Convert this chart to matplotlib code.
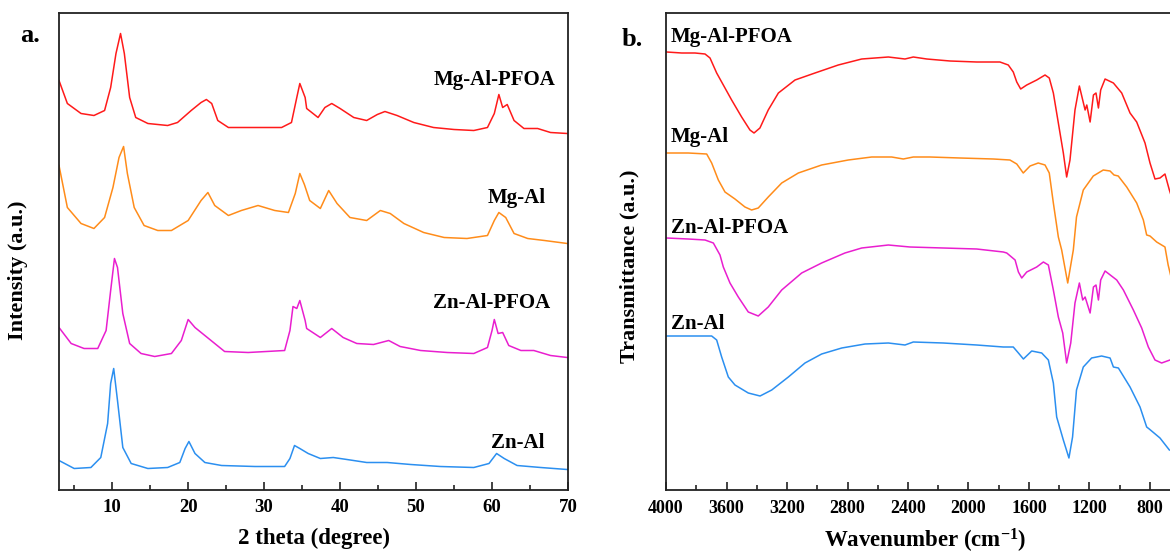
import matplotlib
matplotlib.use("Agg")
import matplotlib.pyplot as plt
from matplotlib.ticker import MultipleLocator, FixedLocator

plt.rcParams['font.family'] = ['Liberation Serif', 'DejaVu Serif']
plt.rcParams['font.weight'] = 'bold'
plt.rcParams['mathtext.fontset'] = 'custom'
plt.rcParams['mathtext.rm'] = 'Liberation Serif:bold'
plt.rcParams['mathtext.default'] = 'rm'

# ---- panel a: XRD, 2 theta (degree) vs stacked intensity (a.u.) ----
xrd_names = ["Mg-Al-PFOA", "Mg-Al", "Zn-Al-PFOA", "Zn-Al"]
xrd_colors = ["#FF1A1A", "#FF8C1A", "#E91ECF", "#2B8FF0"]

mgal_pfoa_x = [3.0, 4.1, 5.9, 7.6, 9.0, 9.8, 10.5, 11.1, 11.6, 12.3, 13.1, 14.7, 17.3, 18.6,
               20.4, 21.7, 22.4, 23.1, 23.9, 25.3, 28.8, 32.3, 33.6, 34.3, 34.7, 35.4, 35.6,
               37.1, 38.0, 38.9, 40.0, 41.8, 43.5, 44.9, 45.9, 47.5, 49.7, 52.3, 55.0, 57.6,
               59.4, 60.3, 60.9, 61.4, 62.0, 62.9, 64.2, 66.0, 67.7, 69.9]
mgal_pfoa_y = [409, 386, 376, 374, 379, 402, 436, 456, 436, 392, 372, 366, 364, 367,
               379, 387, 390, 386, 369, 362, 362, 362, 367, 392, 406, 392, 381,
               372, 382, 386, 381, 372, 369, 375, 378, 374, 367, 362, 360, 359,
               362, 376, 395, 382, 385, 369, 361, 361, 357, 356]

mgal_x = [3.0, 4.1, 5.9, 7.6, 9.0, 10.1, 10.9, 11.5, 12.0, 12.9, 14.2, 16.0, 17.8, 20.0,
          21.7, 22.6, 23.5, 25.3, 27.0, 29.2, 31.4, 33.2, 34.1, 34.7, 35.3, 36.0, 37.4,
          38.5, 39.6, 41.3, 43.5, 45.3, 46.6, 48.4, 51.0, 53.7, 56.7, 59.4, 60.3, 60.9,
          61.8, 62.9, 64.7, 66.9, 69.9]
mgal_y = [324, 282, 266, 261, 272, 302, 332, 343, 316, 282, 264, 259, 259, 269,
          289, 297, 284, 274, 279, 284, 279, 277, 296, 316, 305, 289, 281,
          299, 286, 272, 269, 279, 276, 266, 257, 252, 251, 254, 269, 277,
          272, 256, 251, 249, 246]

znal_pfoa_x = [3.0, 4.6, 6.3, 8.1, 9.2, 9.8, 10.3, 10.7, 11.4, 12.3, 13.8, 15.6, 17.8, 19.1,
               20.0, 20.9, 22.2, 23.5, 24.8, 27.9, 32.7, 33.4, 33.8, 34.3, 34.7, 35.4, 35.6,
               37.4, 38.9, 40.4, 42.2, 44.4, 46.4, 47.9, 50.6, 54.1, 57.6, 59.4, 60.0, 60.3,
               60.8, 61.4, 62.2, 63.8, 65.5, 67.7, 69.9]
znal_pfoa_y = [162, 146, 141, 141, 159, 199, 231, 222, 176, 146, 136, 133, 136, 149,
               170, 162, 154, 146, 138, 137, 139, 159, 183, 181, 189, 169, 161,
               152, 161, 152, 146, 145, 149, 143, 139, 137, 136, 142, 159, 170,
               156, 157, 144, 139, 139, 134, 132]

znal_x = [3.0, 5.0, 7.2, 8.5, 9.4, 9.8, 10.2, 10.7, 11.4, 12.5, 14.7, 17.3, 18.9, 19.6,
          20.1, 20.9, 22.2, 24.4, 28.8, 32.7, 33.4, 34.0, 34.7, 35.8, 37.4, 39.1, 40.9,
          43.5, 46.2, 49.3, 53.2, 57.6, 59.6, 60.6, 61.6, 63.3, 66.4, 69.9]
znal_y = [29, 21, 22, 32, 66, 106, 121, 89, 42, 26, 21, 22, 27, 41,
          48, 36, 27, 24, 23, 23, 31, 44, 41, 36, 31, 32, 30,
          27, 27, 25, 23, 22, 26, 36, 31, 24, 22, 20]

xrd_label_pos = [(68.3, 409), (67.1, 291), (67.7, 186), (66.9, 47)]

# ---- panel b: FTIR, wavenumber (cm-1) vs stacked transmittance (a.u.) ----
ftir_names = ["Mg-Al-PFOA", "Mg-Al", "Zn-Al-PFOA", "Zn-Al"]
ftir_major_ticks = [4000, 3600, 3200, 2800, 2400, 2000, 1600, 1200, 800]

mgal_pfoa_wn = [3996, 3896, 3808, 3742, 3709, 3665, 3632, 3566, 3500, 3445, 3418, 3379, 3324,
                3257, 3147, 3015, 2861, 2706, 2530, 2420, 2365, 2276, 2122, 1946, 1792, 1737,
                1704, 1681, 1655, 1615, 1549, 1494, 1466, 1439, 1406, 1373, 1351, 1329, 1296,
                1267, 1245, 1229, 1218, 1196, 1174, 1157, 1141, 1126, 1097, 1042, 987, 932,
                888, 833, 800, 767, 734, 701, 672, 640]
mgal_pfoa_t = [438, 437, 437, 436, 432, 417, 408, 390, 373, 360, 357, 362, 380,
               397, 410, 417, 425, 431, 433, 431, 433, 431, 429, 428, 428, 425,
               418, 408, 401, 405, 410, 415, 412, 397, 367, 337, 313, 330, 380,
               404, 390, 380, 385, 368, 395, 397, 382, 400, 411, 407, 397, 377,
               368, 347, 327, 311, 312, 316, 300, 285]

mgal_wn = [3996, 3853, 3731, 3698, 3654, 3610, 3544, 3478, 3434, 3390, 3324, 3235, 3125,
           2971, 2795, 2640, 2508, 2431, 2365, 2255, 2056, 1836, 1726, 1681, 1638, 1593,
           1539, 1494, 1466, 1439, 1406, 1384, 1344, 1307, 1286, 1241, 1175, 1109, 1064,
           1038, 1010, 954, 888, 844, 822, 800, 756, 701, 680, 640]
mgal_t = [337, 337, 336, 327, 310, 298, 291, 283, 280, 282, 293, 307, 317,
          325, 330, 333, 333, 331, 333, 333, 332, 331, 330, 326, 317, 324,
          327, 325, 317, 287, 253, 240, 207, 240, 273, 300, 314, 320, 319,
          315, 314, 303, 287, 270, 255, 254, 248, 243, 225, 200]

znal_pfoa_wn = [3996, 3853, 3742, 3687, 3643, 3621, 3577, 3522, 3456, 3390, 3324, 3235, 3103,
                2971, 2817, 2706, 2530, 2387, 2167, 1946, 1770, 1747, 1692, 1670, 1648, 1615,
                1549, 1505, 1472, 1439, 1406, 1377, 1351, 1324, 1296, 1267, 1245, 1229, 1196,
                1174, 1157, 1141, 1126, 1097, 1020, 976, 910, 855, 811, 767, 723, 668]
znal_pfoa_t = [252, 251, 250, 247, 235, 223, 207, 193, 178, 174, 183, 200, 217,
               227, 237, 242, 245, 243, 242, 241, 238, 237, 230, 218, 212, 218,
               223, 228, 225, 200, 173, 157, 127, 147, 187, 207, 190, 193, 177,
               203, 205, 190, 210, 219, 210, 200, 180, 162, 143, 130, 127, 130]

znal_wn = [3996, 3853, 3698, 3665, 3632, 3588, 3544, 3456, 3378, 3301, 3191, 3081, 2971,
           2838, 2684, 2530, 2420, 2365, 2167, 1946, 1770, 1704, 1670, 1637, 1582, 1516,
           1472, 1439, 1417, 1373, 1336, 1312, 1286, 1241, 1186, 1120, 1064, 1042, 1009,
           932, 866, 822, 805, 734, 672]
znal_t = [154, 154, 154, 150, 133, 113, 105, 97, 94, 100, 113, 127, 136,
          142, 146, 147, 145, 148, 147, 145, 143, 143, 137, 131, 139, 137,
          130, 107, 73, 50, 32, 53, 100, 123, 132, 134, 132, 123, 122,
          103, 83, 63, 61, 52, 40]

ftir_label_pos = [(3967, 453), (3967, 353), (3967, 262), (3967, 166)]


def style_axes(ax):
    for s in ax.spines.values():
        s.set_linewidth(1.3)
        s.set_color("#222222")
    ax.tick_params(axis="x", which="both", direction="in", labelsize=13.5, pad=7,
                   top=False, color="#222222")
    ax.tick_params(axis="x", which="major", length=6, width=1.2)
    ax.tick_params(axis="x", which="minor", length=3.5, width=1.2)
    ax.set_yticks([])


fig = plt.figure(figsize=(11.7, 5.53), dpi=100)

# panel a
ax1 = fig.add_axes([59 / 1170, 63.5 / 553, 509 / 1170, 477 / 553])
xrd_x = [mgal_pfoa_x, mgal_x, znal_pfoa_x, znal_x]
xrd_y = [mgal_pfoa_y, mgal_y, znal_pfoa_y, znal_y]
for xs, ys, c in zip(xrd_x, xrd_y, xrd_colors):
    ax1.plot(xs, ys, color=c, lw=1.1)
for name, (tx, ty) in zip(xrd_names, xrd_label_pos):
    ax1.text(tx, ty, name, ha="right", va="center", fontsize=15, fontweight="bold")
ax1.set_xlim(3, 70)
ax1.set_ylim(0, 477)
ax1.xaxis.set_major_locator(MultipleLocator(10))
ax1.xaxis.set_minor_locator(MultipleLocator(5))
style_axes(ax1)
ax1.set_xlabel("2 theta (degree)", fontsize=16.5, fontweight="bold", labelpad=8)
ax1.set_ylabel("Intensity (a.u.)", fontsize=16, fontweight="bold")
ax1.yaxis.set_label_coords(-0.06, 0.46)
fig.text(20 / 1170, 1 - 36 / 553, "a.", fontsize=19, fontweight="bold", va="center")

# panel b (extends past the right edge, as in the reference crop)
ax2 = fig.add_axes([666 / 1170, 63 / 553, 544.5 / 1170, 476.7 / 553])
ftir_x = [mgal_pfoa_wn, mgal_wn, znal_pfoa_wn, znal_wn]
ftir_y = [mgal_pfoa_t, mgal_t, znal_pfoa_t, znal_t]
for xs, ys, c in zip(ftir_x, ftir_y, xrd_colors):
    ax2.plot(xs, ys, color=c, lw=1.1)
for name, (tx, ty) in zip(ftir_names, ftir_label_pos):
    ax2.text(tx, ty, name, ha="left", va="center", fontsize=15, fontweight="bold")
ax2.set_xlim(4000, 400)
ax2.set_ylim(0, 476.7)
ax2.xaxis.set_major_locator(FixedLocator(ftir_major_ticks))
ax2.xaxis.set_minor_locator(MultipleLocator(200))
style_axes(ax2)
ax2.tick_params(axis="x", labelsize=13)
ax2.set_xlabel("Wavenumber (cm$^{-1}$)", fontsize=16.5, fontweight="bold")
ax2.xaxis.set_label_coords(259 / 544.5, -0.078)
ax2.set_ylabel("Transmittance (a.u.)", fontsize=16, fontweight="bold")
ax2.yaxis.set_label_coords(-0.048, 0.47)
fig.text(622 / 1170, 1 - 39 / 553, "b.", fontsize=19, fontweight="bold", va="center")

fig.savefig("out.png", dpi=100)
